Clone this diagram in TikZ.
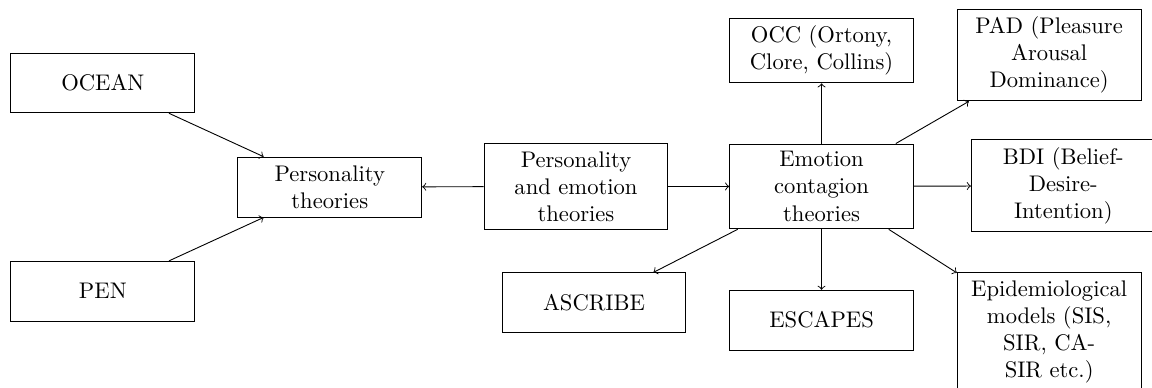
\documentclass[tikz,border=0pt]{standalone}

\tikzset{
  theorybox/.style={draw, align=center, minimum width=2.86cm, minimum height=0.93cm},
}

\begin{document}
\begin{tikzpicture}
          \useasboundingbox (0,0) rectangle (17.92,-6.03);
          % personality side
          \node[theorybox] (ocean) at (1.60,-1.29) {OCEAN};
          \node[theorybox] (pen) at (1.60,-4.53) {PEN};
          \node[theorybox] (pers) at (5.13,-2.91) {Personality\\theories};
          % middle
          \node[theorybox] (persemo) at (8.96,-2.90) {Personality\\and emotion\\theories};
          \node[theorybox] (contagion) at (12.78,-2.90) {Emotion\\contagion\\theories};
          % emotion side
          \node[theorybox] (occ) at (12.78,-0.785) {OCC (Ortony,\\Clore, Collins)};
          \node[theorybox] (ascribe) at (9.24,-4.71) {ASCRIBE};
          \node[theorybox] (escapes) at (12.78,-4.98) {ESCAPES};
          \node[theorybox] (pad) at (16.32,-0.855) {PAD (Pleasure\\Arousal\\Dominance)};
          \node[theorybox] (bdi) at (16.54,-2.89) {BDI (Belief-\\Desire-\\Intention)};
          \node[theorybox] (epid) at (16.32,-5.16) {Epidemiological\\models (SIS,\\SIR, CA-\\SIR etc.)};
          % arrows
          \draw[->] (ocean) -- (pers);
          \draw[->] (pen) -- (pers);
          \draw[->] (persemo) -- (pers);
          \draw[->] (persemo) -- (contagion);
          \draw[->] (contagion) -- (occ);
          \draw[->] (contagion) -- (pad);
          \draw[->] (contagion) -- (bdi);
          \draw[->] (contagion) -- (epid);
          \draw[->] (contagion) -- (escapes);
          \draw[->] (contagion) -- (ascribe);
        \end{tikzpicture}
\end{document}
